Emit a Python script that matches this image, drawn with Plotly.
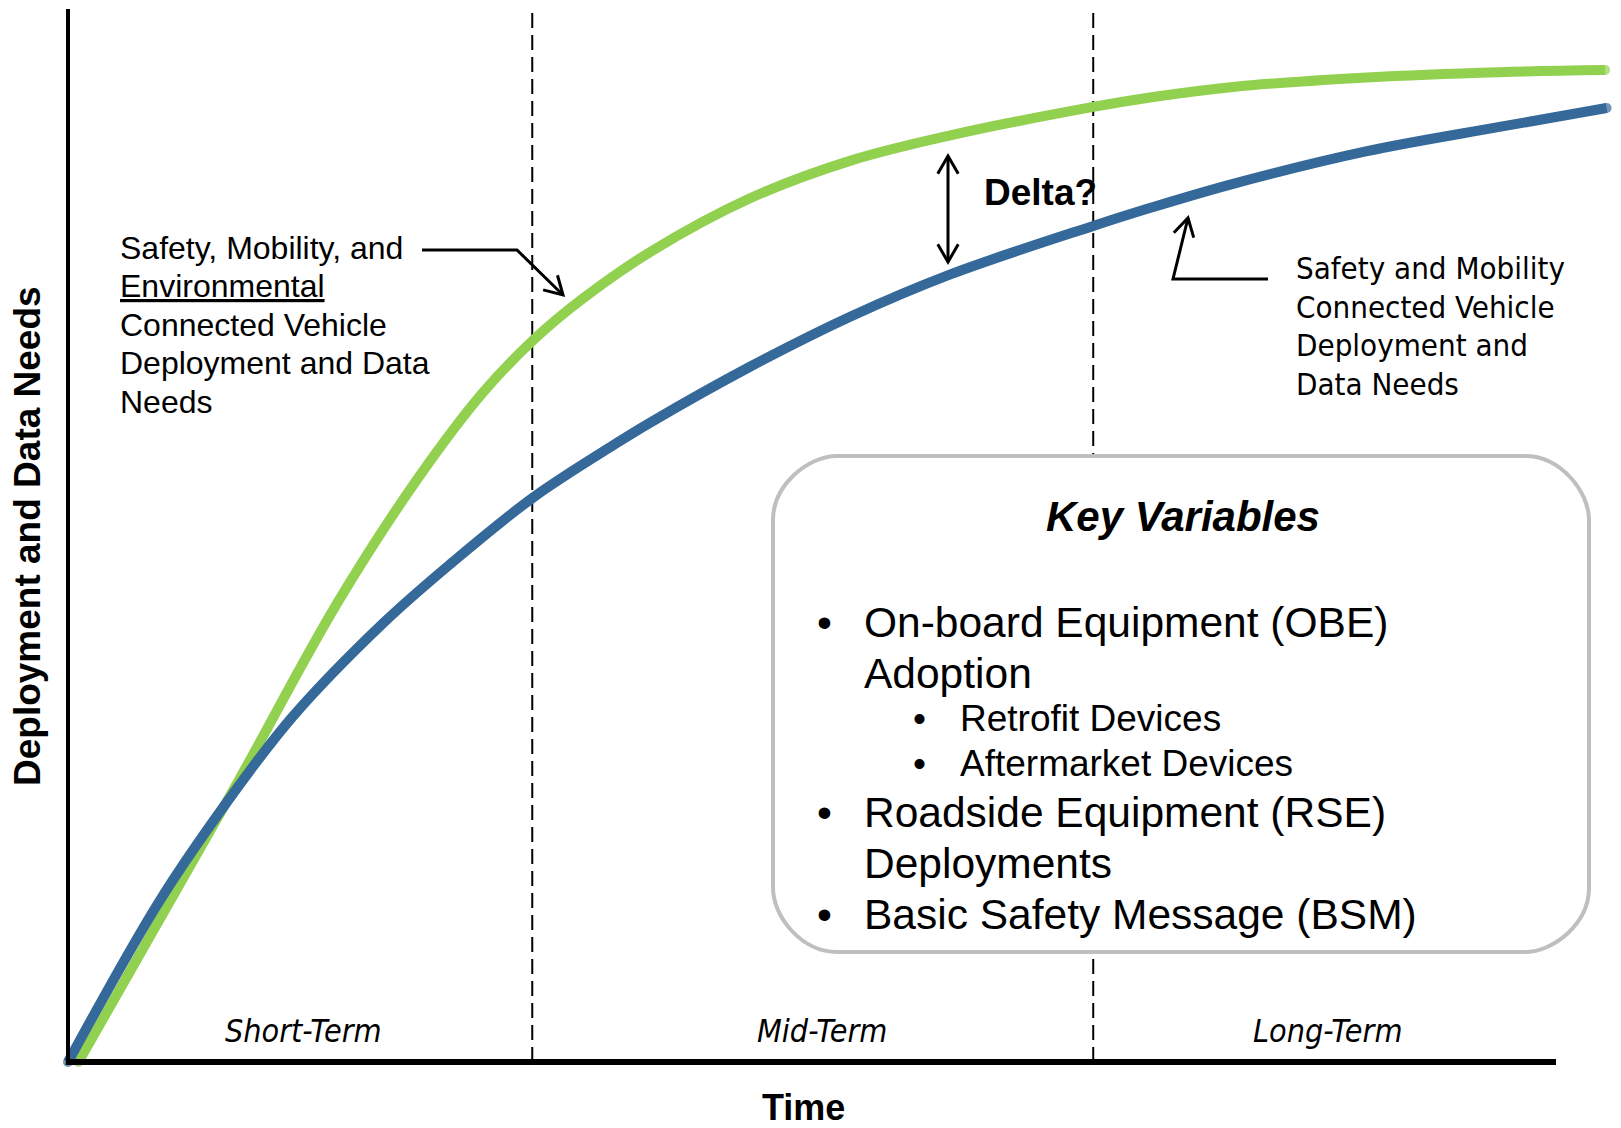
import math
import plotly.graph_objects as go

# ---------------- data ----------------
# time axis: 0 = origin, 100 = end of the drawn time axis; level axis 0..100
green_time = [0.7, 11.1, 18.1, 23.5, 27.9, 31.3, 34.6, 39.1, 45.8, 52.6,
              59.3, 68.9, 72.7, 78.3, 87.3, 96.2, 103.3]
green_level = [0, 25.8, 43.6, 55.4, 63.6, 68.6, 72.5, 76.9, 82.0, 85.6,
               88.0, 90.7, 91.6, 92.6, 93.5, 94.0, 94.2]

blue_time = [0, 6.2, 11.1, 15.1, 21.2, 25.7, 31.25, 36.9, 39.1, 45.8, 52.6, 59.3,
             68.9, 72.7, 78.3, 87.3, 96.2, 103.4]
blue_level = [0, 15.4, 25.5, 32.8, 41.7, 47.3, 53.6, 58.8, 60.7, 66.0, 70.8, 74.8,
              79.4, 81.1, 83.4, 86.5, 88.8, 90.6]

phase_names = ["Short-Term", "Mid-Term", "Long-Term"]
phase_bounds = [0, 31.2, 68.9, 100]

left_note = ["Safety, Mobility, and", "<u>Environmental</u>", "Connected Vehicle",
             "Deployment and Data", "Needs"]
right_note = ["Safety and Mobility", "Connected Vehicle", "Deployment and", "Data Needs"]

kv_title = "Key Variables"
kv_lines = ["On-board Equipment (OBE)", "Adoption", "Retrofit Devices", "Aftermarket Devices",
            "Roadside Equipment (RSE)", "Deployments", "Basic Safety Message (BSM)"]
kv_level = [1, 1, 2, 2, 1, 1, 1]
kv_bullet = [True, False, True, True, True, False, True]

x_title = "Time"
y_title = "Deployment and Data Needs"
delta_label = "Delta?"

GREEN = "#92D050"
BLUE = "#35699A"
W, H = 1621, 1128

# ---------------- layout helpers (pixel -> coordinates) ----------------
X0PX, XPX_PER = 68.0, 14.88
Y0PX, YPX_PER = 1062.0, 10.53


def dx(px):
    return (px - X0PX) / XPX_PER


def dy(py):
    return (Y0PX - py) / YPX_PER


def px_(px):
    return px / W


def py_(py):
    return 1 - py / H


ARIAL = "Liberation Sans, Arial, sans-serif"
TAHOMA = "DejaVu Sans Condensed, DejaVu Sans, sans-serif"


def end_caps(n, size):
    return [size if i in (0, n - 1) else 0 for i in range(n)]


fig = go.Figure()
fig.add_trace(go.Scatter(x=green_time, y=green_level, mode="lines+markers",
                         line=dict(color=GREEN, width=10, shape="spline", smoothing=1.0),
                         marker=dict(color=GREEN, size=end_caps(len(green_time), 10), line=dict(width=0)),
                         hoverinfo="skip", showlegend=False))
fig.add_trace(go.Scatter(x=blue_time, y=blue_level, mode="lines+markers",
                         line=dict(color=BLUE, width=10, shape="spline", smoothing=1.0),
                         marker=dict(color=BLUE, size=end_caps(len(blue_time), 10), line=dict(width=0)),
                         hoverinfo="skip", showlegend=False))

shapes = []
# phase separators
for b in phase_bounds[1:-1]:
    shapes.append(dict(type="line", xref="x", yref="y", x0=b, x1=b, y0=0, y1=100,
                       line=dict(color="black", width=2, dash="15px,7px"), layer="below"))
# axes
shapes.append(dict(type="line", xref="x", yref="y", x0=0, x1=0, y0=0, y1=100,
                   line=dict(color="black", width=4)))
shapes.append(dict(type="line", xref="x", yref="y", x0=-0.15, x1=100, y0=0, y1=0,
                   line=dict(color="black", width=6)))


def polyline(pts):
    return "M " + " L ".join(f"{px_(x)},{py_(y)}" for x, y in pts)


def chevron(tip, tail, arm=20.5, half=30):
    ux, uy = tip[0] - tail[0], tip[1] - tail[1]
    n = math.hypot(ux, uy)
    ux, uy = ux / n, uy / n
    ends = []
    for s in (1, -1):
        a = math.radians(half * s)
        rx = ux * math.cos(a) - uy * math.sin(a)
        ry = ux * math.sin(a) + uy * math.cos(a)
        ends.append((tip[0] - arm * rx, tip[1] - arm * ry))
    return polyline([ends[0], tip, ends[1]])


def pen(p):
    shapes.append(dict(type="path", xref="paper", yref="paper", path=p,
                       line=dict(color="black", width=3)))


# callout arrows (reference pixel positions)
pen(polyline([(422, 250), (517, 250), (563, 295)]))
pen(chevron((563, 295), (517, 250)))
pen(polyline([(1268, 279), (1173, 279), (1188, 218)]))
pen(chevron((1188, 218), (1173, 279)))
pen(polyline([(948, 156), (948, 262)]))
pen(chevron((948, 156), (948, 262)))
pen(chevron((948, 262), (948, 156)))

# rounded key-variables box
bx0, bx1, bt, bb = px_(773), px_(1589), py_(456), py_(952)
rx, ry = 64 / W, 64 / H
k = 0.4477
path = (f"M {bx0+rx},{bt} L {bx1-rx},{bt} "
        f"C {bx1-rx*k},{bt} {bx1},{bt-ry*(1-k)} {bx1},{bt-ry} "
        f"L {bx1},{bb+ry} "
        f"C {bx1},{bb+ry*k} {bx1-rx*(1-k)},{bb} {bx1-rx},{bb} "
        f"L {bx0+rx},{bb} "
        f"C {bx0+rx*k},{bb} {bx0},{bb+ry*(1-k)} {bx0},{bb+ry} "
        f"L {bx0},{bt-ry} "
        f"C {bx0},{bt-ry*k} {bx0+rx*(1-k)},{bt} {bx0+rx},{bt} Z")
shapes.append(dict(type="path", xref="paper", yref="paper", path=path,
                   fillcolor="white", line=dict(color="#BFBFBF", width=4)))

ann = []


def text(x, y, s, size, family=ARIAL, xanchor="left", color="black", **kw):
    ann.append(dict(x=x, y=y, xref="paper", yref="paper", text=s, showarrow=False,
                    xanchor=xanchor, yanchor="middle", align="left", borderpad=0,
                    font=dict(family=family, size=size, color=color), **kw))


# left note
for i, s in enumerate(left_note):
    text(px_(119), py_(248 + 38.5 * i), s, 32)
# right note
for i, s in enumerate(right_note):
    text(px_(1295), py_(268 + 38.5 * i), s, 31, family=TAHOMA)

# phase labels (near the middle of each phase)
label_nudge = [3, 9, 3]
for i, name in enumerate(phase_names):
    mid = (phase_bounds[i] + phase_bounds[i + 1]) / 2
    ann.append(dict(x=mid + label_nudge[i] / XPX_PER, y=dy(1031), xref="x", yref="y",
                    text=f"<i>{name}</i>", showarrow=False, xanchor="center", yanchor="middle",
                    font=dict(family=TAHOMA, size=32, color="black")))

# key variables box content
text(px_(1183), py_(517), f"<b><i>{kv_title}</i></b>", 42, xanchor="center")
kv_y = [622, 674, 718.5, 763, 812.6, 863, 914]
for s, lev, bul, yy in zip(kv_lines, kv_level, kv_bullet, kv_y):
    size = 42.5 if lev == 1 else 37
    tx = 863 if lev == 1 else 959
    bxp = 824 if lev == 1 else 919
    text(px_(tx), py_(yy), s, size)
    if bul:
        text(px_(bxp), py_(yy), "•", size, xanchor="center")

# axis titles and delta label
text(px_(803), py_(1107), f"<b>{x_title}</b>", 36, xanchor="center")
text(px_(27), py_(536), f"<b>{y_title}</b>", 37, xanchor="center", textangle=-90)
text(px_(983), py_(192), f"<b>{delta_label}</b>", 37)

fig.update_layout(
    width=W, height=H, margin=dict(l=0, r=0, t=0, b=0),
    paper_bgcolor="white", plot_bgcolor="white",
    xaxis=dict(range=[dx(0), dx(W)], visible=False, fixedrange=True),
    yaxis=dict(range=[dy(H), dy(0)], visible=False, fixedrange=True),
    shapes=shapes, annotations=ann, showlegend=False,
)

fig.write_html("out.html", config={"displayModeBar": False},
               post_script="document.body.style.margin='0';document.body.style.overflow='hidden';")
